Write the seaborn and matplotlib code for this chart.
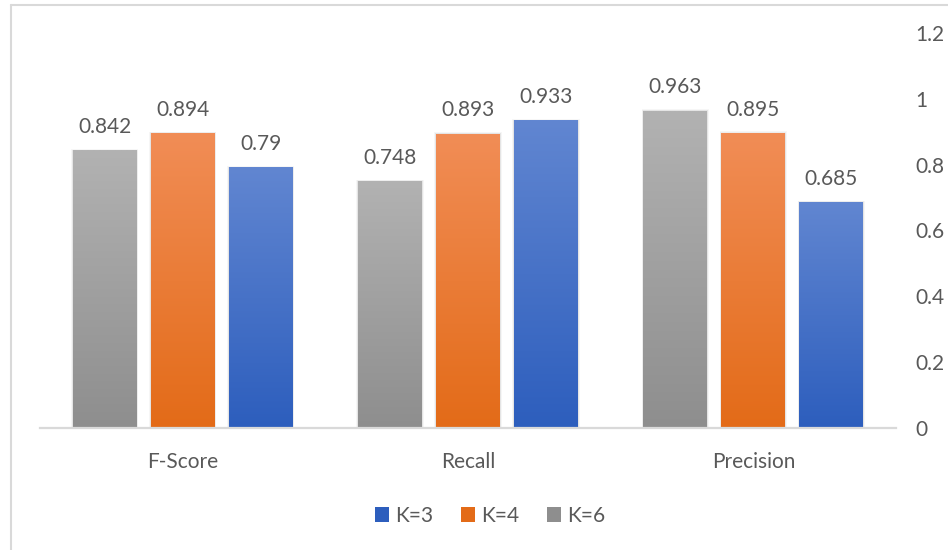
import numpy as np
import pandas as pd
import matplotlib
matplotlib.use("Agg")
import matplotlib.pyplot as plt
from matplotlib.colors import LinearSegmentedColormap
from matplotlib.patches import Patch
import seaborn as sns

# Metric scores per clustering setting
metrics = ["F-Score", "Recall", "Precision"]
k6 = [0.842, 0.748, 0.963]
k4 = [0.894, 0.893, 0.895]
k3 = [0.79, 0.933, 0.685]
series_order = ["K=6", "K=4", "K=3"]
legend_order = ["K=3", "K=4", "K=6"]
y_ticks = [0, 0.2, 0.4, 0.6, 0.8, 1, 1.2]

df = pd.DataFrame({
    "metric": metrics * 3,
    "score": k6 + k4 + k3,
    "setting": ["K=6"] * 3 + ["K=4"] * 3 + ["K=3"] * 3,
})

# top / bottom colours of the vertical gradient for each series
grad = {
    "K=6": ("#b2b2b2", "#8e8e8e"),
    "K=4": ("#f18d56", "#e36b18"),
    "K=3": ("#6186d1", "#2d5ebd"),
}
mid = {k: v[1] for k, v in grad.items()}

sns.set_theme(style="white")
plt.rcParams["font.family"] = ["Lato", "DejaVu Sans"]
text_col = "#595959"
fs = 15

fig = plt.figure(figsize=(9.48, 5.5), dpi=100)
ax = fig.add_axes([40 / 948, (550 - 428) / 550, 856 / 948, (428 - 33) / 550])

sns.barplot(data=df, x="metric", y="score", hue="setting", order=metrics,
            hue_order=series_order, palette=mid, width=0.82, gap=0.18,
            legend=False, ax=ax, saturation=1, linewidth=0,
            edgecolor="none")

ax.set_xlim(-0.5, 2.5)
ax.set_ylim(0, 1.2)

# vertical gradient fill over each bar, with a soft layered shadow
g = np.linspace(0, 1, 256).reshape(-1, 1)
for container, name in zip(ax.containers, series_order):
    cmap = LinearSegmentedColormap.from_list(name, [grad[name][1], grad[name][0]])
    for patch in container:
        patch.set_edgecolor("none")
        patch.set_linewidth(0)
        patch.set_zorder(2)
        x0, w, h = patch.get_x(), patch.get_width(), patch.get_height()
        for d in (0.002, 0.004, 0.006):
            ax.add_patch(plt.Rectangle((x0 - d, 0), w + 2 * d, h + d,
                                       facecolor="#000000", alpha=0.035,
                                       lw=0, zorder=1))
        ax.imshow(g, cmap=cmap, origin="lower", aspect="auto",
                  interpolation="bilinear",
                  extent=[x0, x0 + w, 0, h], zorder=3)
    ax.bar_label(container, labels=[f"{v:g}" for v in container.datavalues],
                 padding=10, fontsize=fs, color=text_col, zorder=5)

ax.set_xlim(-0.5, 2.5)
ax.set_ylim(0, 1.2)

ax.yaxis.tick_right()
ax.set_yticks(y_ticks)
ax.set_yticklabels([f"{t:g}" for t in y_ticks])
ax.tick_params(axis="y", length=0, pad=14, labelsize=fs, labelcolor=text_col)
ax.tick_params(axis="x", length=0, pad=17, labelsize=fs, labelcolor=text_col)
ax.set_xlabel("")
ax.set_ylabel("")
for s in ["left", "right", "top"]:
    ax.spines[s].set_visible(False)
ax.spines["bottom"].set_color("#d9d9d9")
ax.spines["bottom"].set_linewidth(1.6)
ax.spines["bottom"].set_zorder(6)

handles = [Patch(facecolor=grad[k][1], edgecolor="none") for k in legend_order]
fig.legend(handles, legend_order, loc="center", bbox_to_anchor=(0.517, 0.062),
           ncol=3, frameon=False, fontsize=fs, labelcolor=text_col,
           handlelength=0.7, handleheight=0.7, handletextpad=0.3,
           columnspacing=1.3)

# chart area outline
fig.add_artist(plt.Line2D([11 / 948, 11 / 948], [0, 1 - 5 / 550],
                          color="#d9d9d9", lw=1.5, transform=fig.transFigure))
fig.add_artist(plt.Line2D([11 / 948, 1], [1 - 5 / 550, 1 - 5 / 550],
                          color="#d9d9d9", lw=1.5, transform=fig.transFigure))

fig.savefig("out.png", dpi=100, facecolor="white")
